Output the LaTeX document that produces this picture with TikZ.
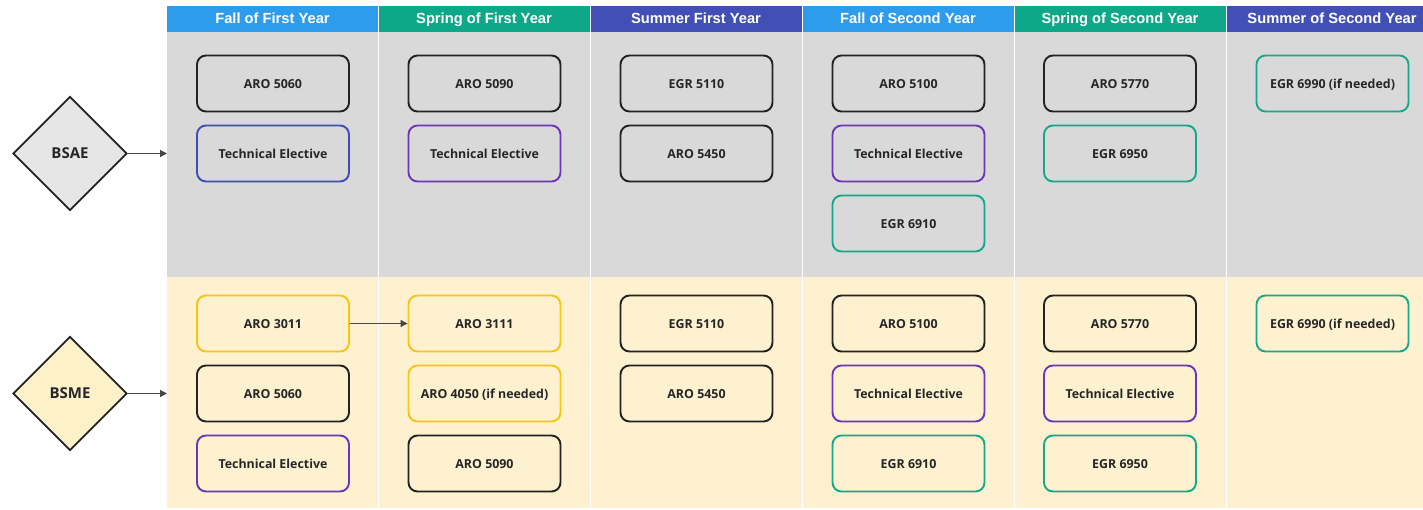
\documentclass[tikz,border=0pt]{standalone}
\usepackage{fontspec}
\setmainfont{Open Sans}
\newfontfamily\headfont{Liberation Sans}
\usetikzlibrary{arrows.meta,shapes.geometric}

\definecolor{headblue}{HTML}{2E9CEC}
\definecolor{headteal}{HTML}{0DA888}
\definecolor{headindigo}{HTML}{4250B6}
\definecolor{lanegray}{HTML}{D9D9D9}
\definecolor{laneyellow}{HTML}{FDF1D0}
\definecolor{ink}{HTML}{262626}
\definecolor{edgeblack}{HTML}{222222}
\definecolor{edgeblue}{HTML}{3E4DB9}
\definecolor{edgepurple}{HTML}{6C35BA}
\definecolor{edgeteal}{HTML}{15A88A}
\definecolor{edgegold}{HTML}{F7C414}
\definecolor{diagray}{HTML}{E6E6E6}
\definecolor{diayellow}{HTML}{FDF1CA}

\begin{document}
\begin{tikzpicture}[x=1pt, y=-1pt,
   course/.style={draw=edgeblack, rounded corners=9pt, line width=1.9pt,
      minimum width=152pt, minimum height=56pt, inner sep=0pt, text=ink,
      text height=9pt, text depth=0pt,
      font=\bfseries\fontsize{12.4}{14}\selectfont},
   head/.style={fill=#1, text=white, minimum width=211pt, minimum height=26pt,
      inner sep=0pt, text height=10.5pt, text depth=0pt,
      font=\headfont\bfseries\fontsize{14.7}{16}\selectfont},
   degree/.style={diamond, draw=edgeblack, fill=#1, line width=1.9pt, aspect=1,
      minimum width=114pt, minimum height=114pt, inner sep=0pt, text=ink,
      font=\bfseries\fontsize{15}{17}\selectfont},
   link/.style={-{Triangle[length=7pt,width=7pt]}, draw=ink!85, line width=1.1pt}]
\clip (0,0) rectangle (1423,509);
\fill[white] (0,0) rectangle (1423,509);

% lanes
\fill[lanegray] (167,31) rectangle (1438,277);
\fill[laneyellow] (167,277) rectangle (1438,508);
\foreach \x in {378,590,802,1014,1226}
   \draw[white, line width=1pt] (\x,5) -- (\x,508);

% semesters
\node[head=headblue] (h1) at (272.5,18.5) {Fall of First Year};
\node[head=headteal] (h2) at (484,18.5) {Spring of First Year};
\node[head=headindigo] (h3) at (696,18.5) {Summer First Year};
\node[head=headblue] (h4) at (908,18.5) {Fall of Second Year};
\node[head=headteal] (h5) at (1120,18.5) {Spring of Second Year};
\node[head=headindigo] (h6) at (1332,18.5) {Summer of Second Year};
\foreach \x in {378,590,802,1014,1226}
   \draw[white, line width=1pt] (\x,5) -- (\x,31);

% BSAE
\node[degree=diagray] (bsae) at (70,153.5) {BSAE};
\coordinate (aein) at (167,153.5);
\draw[link] (bsae) -- (aein);

\node[course] (ae11) at (273,83.5) {ARO 5060};
\node[course, draw=edgeblue] (ae12) at (273,153.5) {Technical Elective};
\node[course] (ae21) at (484.5,83.5) {ARO 5090};
\node[course, draw=edgepurple] (ae22) at (484.5,153.5) {Technical Elective};
\node[course] (ae31) at (696.5,83.5) {EGR 5110};
\node[course] (ae32) at (696.5,153.5) {ARO 5450};
\node[course] (ae41) at (908.5,83.5) {ARO 5100};
\node[course, draw=edgepurple] (ae42) at (908.5,153.5) {Technical Elective};
\node[course, draw=edgeteal] (ae43) at (908.5,223.5) {EGR 6910};
\node[course] (ae51) at (1120,83.5) {ARO 5770};
\node[course, draw=edgeteal] (ae52) at (1120,153.5) {EGR 6950};
\node[course, draw=edgeteal] (ae61) at (1332.5,83.5) {EGR 6990 (if needed)};

% BSME
\node[degree=diayellow] (bsme) at (70,393.5) {BSME};
\coordinate (mein) at (167,393.5);
\draw[link] (bsme) -- (mein);

\node[course, draw=edgegold] (me11) at (273,323.5) {ARO 3011};
\node[course] (me12) at (273,393.5) {ARO 5060};
\node[course, draw=edgepurple] (me13) at (273,463.5) {Technical Elective};
\node[course, draw=edgegold] (me21) at (484.5,323.5) {ARO 3111};
\node[course, draw=edgegold] (me22) at (484.5,393.5) {ARO 4050 (if needed)};
\node[course] (me23) at (484.5,463.5) {ARO 5090};
\node[course] (me31) at (696.5,323.5) {EGR 5110};
\node[course] (me32) at (696.5,393.5) {ARO 5450};
\node[course] (me41) at (908.5,323.5) {ARO 5100};
\node[course, draw=edgepurple] (me42) at (908.5,393.5) {Technical Elective};
\node[course, draw=edgeteal] (me43) at (908.5,463.5) {EGR 6910};
\node[course] (me51) at (1120,323.5) {ARO 5770};
\node[course, draw=edgepurple] (me52) at (1120,393.5) {Technical Elective};
\node[course, draw=edgeteal] (me53) at (1120,463.5) {EGR 6950};
\node[course, draw=edgeteal] (me61) at (1332.5,323.5) {EGR 6990 (if needed)};

\draw[link] (me11) -- (me21);
\end{tikzpicture}
\end{document}
